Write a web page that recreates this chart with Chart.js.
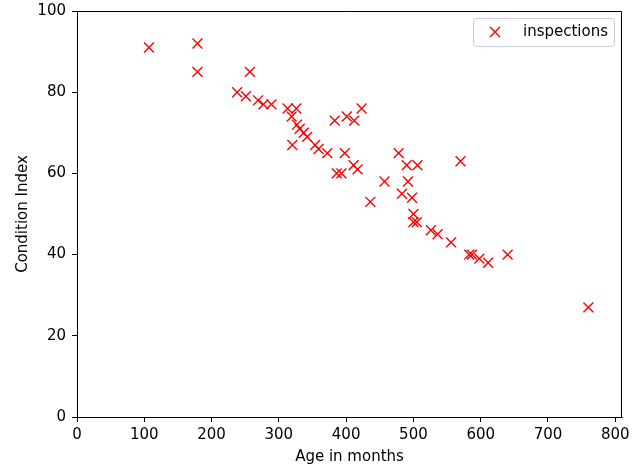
<!DOCTYPE html>
<html>
<head>
<meta charset="utf-8">
<script src="https://cdn.jsdelivr.net/npm/chart.js@4/dist/chart.umd.min.js"></script>
<style>
    html, body { margin: 0; padding: 0; background: #fff; }
    canvas { display: block; }
</style>
</head>
<body>
<canvas id="myChart" width="644" height="470"></canvas>
<script>
// values
const ageMonths = [107, 179, 179, 257, 238, 251, 269, 277, 289, 313, 326, 319, 327, 331, 337, 342, 354, 359, 372, 320,
    383, 398, 401, 412, 423, 411, 417, 386, 393, 436, 457, 478, 490, 506, 492, 483, 498, 570, 500, 500,
    505, 526, 536, 556, 583, 587, 598, 611, 640, 760];
const conditionIndex = [91, 92, 85, 85, 80, 79, 78, 77, 77, 76, 76, 74, 72, 71, 70, 69, 67, 66, 65, 67,
    73, 65, 74, 73, 76, 62, 61, 60, 60, 53, 58, 65, 62, 62, 58, 55, 54, 63, 50, 48,
    48, 46, 45, 43, 40, 40, 39, 38, 40, 27];
const xTicks = [0, 100, 200, 300, 400, 500, 600, 700, 800];
const yTicks = [0, 20, 40, 60, 80, 100];
const seriesName = 'inspections';

Chart.defaults.font.family = "'DejaVu Sans', sans-serif";
Chart.defaults.font.size = 15;
Chart.defaults.color = '#000';

// closes the axes box on the top and right
const frame = {
    id: 'frame',
    afterDatasetsDraw(chart) {
        const {ctx, chartArea: a} = chart;
        ctx.save();
        ctx.strokeStyle = '#000';
        ctx.lineWidth = 1;
        ctx.beginPath();
        ctx.moveTo(a.left, a.top + 0.5);
        ctx.lineTo(a.right - 0.5, a.top + 0.5);
        ctx.lineTo(a.right - 0.5, a.bottom);
        ctx.stroke();
        ctx.restore();
    }
};

// matplotlib style legend box in the upper right corner
const boxLegend = {
    id: 'boxLegend',
    afterDraw(chart) {
        const ctx = chart.ctx;
        const ds = chart.data.datasets[0];
        const x0 = 473.5, y0 = 18.5, w = 141, h = 28, r = 3;
        ctx.save();
        ctx.fillStyle = 'rgba(255,255,255,0.8)';
        ctx.strokeStyle = '#cccccc';
        ctx.lineWidth = 1;
        ctx.beginPath();
        ctx.roundRect(x0, y0, w, h, r);
        ctx.fill();
        ctx.stroke();
        Chart.helpers.drawPoint(ctx, {
            pointStyle: ds.pointStyle,
            radius: ds.pointRadius,
            borderWidth: ds.borderWidth,
            rotation: 0
        }, 495, 32);
        ctx.strokeStyle = ds.borderColor;
        ctx.lineWidth = ds.borderWidth;
        ctx.stroke();
        ctx.fillStyle = '#000';
        ctx.font = "15px 'DejaVu Sans', sans-serif";
        ctx.textBaseline = 'middle';
        ctx.fillText(ds.label, 523, 32);
        ctx.restore();
    }
};

const points = ageMonths.map((a, i) => ({x: a, y: conditionIndex[i]}));

let myChart = document.getElementById('myChart').getContext('2d');

let scatterChart = new Chart(myChart, {
    type: 'scatter',
    data: {
        datasets: [{
            label: seriesName,
            data: points,
            pointStyle: 'crossRot',
            pointRadius: 7,
            pointHoverRadius: 7,
            borderColor: '#ff0000',
            backgroundColor: '#ff0000',
            borderWidth: 1.4,
        }]
    },
    options: {
        responsive: false,
        animation: false,
        devicePixelRatio: 1,
        layout: {
            padding: {top: 11, right: 22, left: 0, bottom: 0}
        },
        plugins: {
            legend: {
                display: false
            },
            tooltip: {
                enabled: false
            }
        },
        scales: {
            x: {
                type: 'linear',
                min: 0,
                max: 810,
                afterBuildTicks: (axis) => { axis.ticks = xTicks.map(v => ({value: v})); },
                afterFit: (axis) => {
                    axis.height = 53;
                    axis.paddingLeft = 0;
                    axis.paddingRight = 0;
                },
                ticks: {
                    padding: 4,
                    maxRotation: 0,
                    autoSkip: false
                },
                grid: {
                    drawOnChartArea: false,
                    drawTicks: true,
                    tickLength: 5,
                    tickColor: '#000'
                },
                border: {
                    color: '#000',
                    width: 1
                },
                title: {
                    display: true,
                    text: 'Age in months',
                    padding: {top: 0, bottom: 4}
                }
            },
            y: {
                type: 'linear',
                min: 0,
                max: 100,
                afterBuildTicks: (axis) => { axis.ticks = yTicks.map(v => ({value: v})); },
                afterFit: (axis) => {
                    axis.width = 77;
                    axis.paddingTop = 0;
                    axis.paddingBottom = 0;
                },
                ticks: {
                    padding: 6,
                    autoSkip: false
                },
                grid: {
                    drawOnChartArea: false,
                    drawTicks: true,
                    tickLength: 5,
                    tickColor: '#000'
                },
                border: {
                    color: '#000',
                    width: 1
                },
                title: {
                    display: true,
                    text: 'Condition Index',
                    padding: {top: 14, bottom: 0}
                }
            }
        }
    },
    plugins: [frame, boxLegend]
});
</script>
</body>
</html>
